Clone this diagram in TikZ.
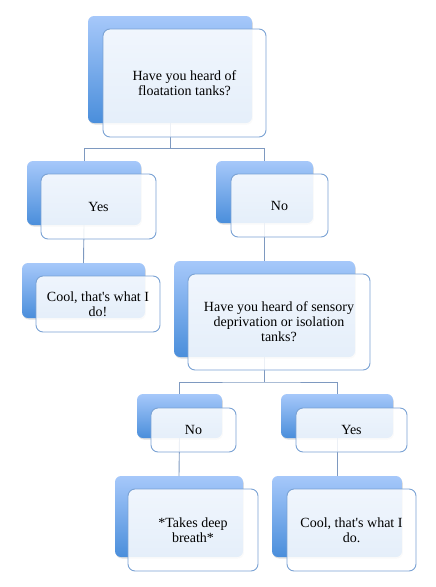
\documentclass[tikz,border=0pt]{standalone}
\usepackage{fontspec}
\setmainfont{Liberation Serif}
\usetikzlibrary{shadows}
\definecolor{backtop}{HTML}{A6C8FA}
\definecolor{backbot}{HTML}{4A8EDB}
\definecolor{frontline}{HTML}{7AA2D4}
\definecolor{connline}{HTML}{7E99C0}
\begin{document}
\begin{tikzpicture}[x=1pt,y=-1pt,
  backbox/.style={anchor=north west, inner sep=0pt, outer sep=0pt, rounded corners=6pt,
    top color=backtop, bottom color=backbot, draw=none,
    drop shadow={shadow xshift=0.8pt, shadow yshift=-1.5pt, opacity=0.25}},
  frontbox/.style={anchor=north west, inner sep=0pt, outer sep=0pt, rounded corners=7pt,
    draw=frontline, line width=0.9pt, fill=white, fill opacity=0.86, text opacity=1,
    align=center, font=\fontsize{14}{15}\selectfont},
  conn/.style={draw=connline, line width=0.9pt}]
\useasboundingbox (0,0) rectangle (436,587);
% back boxes
\node[backbox, minimum width=164pt, minimum height=107pt] (topb) at (88,16) {};
\node[backbox, minimum width=114pt, minimum height=64pt] (yesb) at (27,161) {};
\node[backbox, minimum width=123pt, minimum height=55pt] (coolab) at (22,263) {};
\node[backbox, minimum width=97pt, minimum height=62pt] (nob) at (216,161) {};
\node[backbox, minimum width=181pt, minimum height=96pt] (sensb) at (174,261) {};
\node[backbox, minimum width=85pt, minimum height=44pt] (nofb) at (137,394) {};
\node[backbox, minimum width=112pt, minimum height=44pt] (yesfb) at (281,394) {};
\node[backbox, minimum width=128pt, minimum height=81pt] (takesb) at (115,476) {};
\node[backbox, minimum width=130pt, minimum height=81pt] (coolbb) at (272,476) {};
% connectors
\coordinate (busa) at (170,148.5);
\coordinate (busb) at (264.5,382);
\draw[conn] (topb.south) -- (busa);
\draw[conn] (yesb.north) |- (busa) -| (nob.north);
\draw[conn] (yesb.south) -- (coolab.north);
\draw[conn] (nob.south) -- (sensb.north);
\draw[conn] (sensb.south) -- (busb);
\draw[conn] (nofb.north) |- (busb) -| (yesfb.north);
\draw[conn] (nofb.south) -- (takesb.north);
\draw[conn] (yesfb.south) -- (coolbb.north);
% front boxes
\node[frontbox, minimum width=163pt, minimum height=108pt] (topf) at (103,29) {Have you heard of\\floatation tanks?};
\node[frontbox, minimum width=115pt, minimum height=65pt] (yesf) at (41,174) {Yes};
\node[frontbox, minimum width=124pt, minimum height=56pt] (coolaf) at (36,276) {Cool, that\textquotesingle s what I\\do!};
\node[frontbox, minimum width=97pt, minimum height=63pt] (nof) at (231,174) {No};
\node[frontbox, minimum width=182pt, minimum height=96pt] (sensf) at (188,274) {Have you heard of sensory\\deprivation or isolation\\tanks?};
\node[frontbox, minimum width=85pt, minimum height=44pt] (noff) at (151,408) {No};
\node[frontbox, minimum width=111pt, minimum height=44pt] (yesff) at (296,408) {Yes};
\node[frontbox, minimum width=130pt, minimum height=82pt] (takesf) at (128,489) {*Takes deep\\breath*};
\node[frontbox, minimum width=129pt, minimum height=82pt] (coolbf) at (287,489) {Cool, that\textquotesingle s what I\\do.};
\end{tikzpicture}
\end{document}
